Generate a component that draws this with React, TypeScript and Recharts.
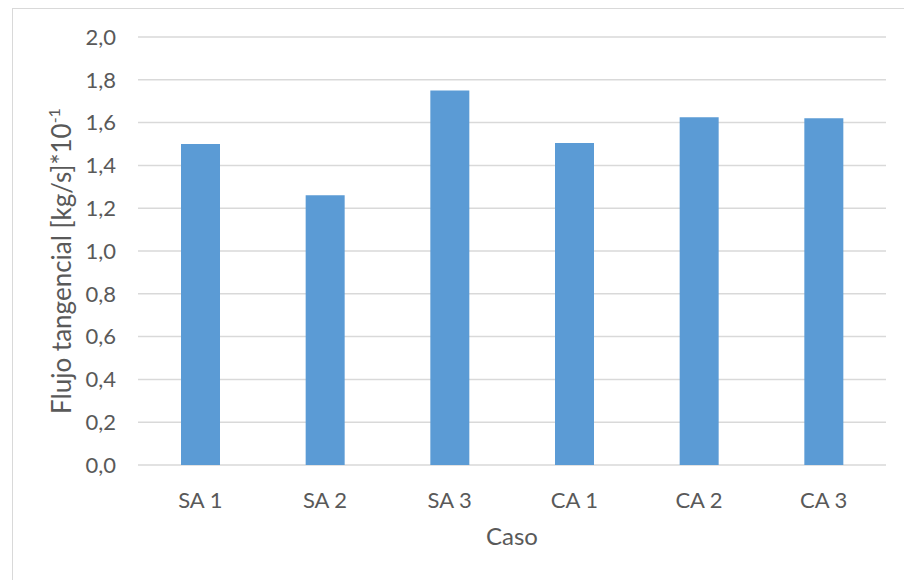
import { BarChart, Bar, XAxis, YAxis, CartesianGrid, Label } from "recharts";

const categories = ["SA 1", "SA 2", "SA 3", "CA 1", "CA 2", "CA 3"];
const flujo = [1.5, 1.26, 1.75, 1.505, 1.625, 1.62];
const yTicks = [0, 0.2, 0.4, 0.6, 0.8, 1.0, 1.2, 1.4, 1.6, 1.8, 2.0];

const data = categories.map((c, i) => ({ caso: c, flujo: flujo[i] }));

const TEXT = "#595959";
const GRID = "#d9d9d9";
const FONT = "Lato, 'Open Sans', sans-serif";

const fmt = (v: number) => v.toFixed(1).replace(".", ",");

export default function App() {
  return (
    <div style={{ position: "absolute", left: 0, top: 0, width: 904, height: 580, overflow: "hidden", background: "#fff", fontFamily: FONT }}>
      {/* chart frame, cropped on the right and bottom */}
      <div style={{ position: "absolute", left: 12, top: 8, width: 1000, height: 1000, border: `1.5px solid ${GRID}` }} />
      <div style={{ position: "absolute", left: 0, top: 0 }}>
        <BarChart width={904} height={580} data={data} margin={{ top: 37, right: 18, left: 0, bottom: 55 }}>
          <CartesianGrid vertical={false} stroke={GRID} strokeWidth={1.5} />
          <XAxis dataKey="caso" height={60} axisLine={false} tickLine={false} tickMargin={21}
            tick={{ fill: TEXT, fontSize: 22, fontFamily: FONT }}>
            <Label content={({ viewBox }: any) => (
              <text x={viewBox.x + viewBox.width / 2} y={viewBox.y + 80} textAnchor="middle"
                fill={TEXT} fontSize={24} fontFamily={FONT}>Caso</text>
            )} />
          </XAxis>
          <YAxis width={138} domain={[0, 2]} ticks={yTicks} interval={0} axisLine={false} tickLine={false}
            tickMargin={16} tickFormatter={fmt} tick={{ fill: TEXT, fontSize: 22, fontFamily: FONT }}>
            <Label content={({ viewBox }: any) => {
              const cx = 71;
              const cy = viewBox.y + viewBox.height / 2 + 10;
              return (
                <text x={cx} y={cy} transform={`rotate(-90 ${cx} ${cy})`} textAnchor="middle"
                  fill={TEXT} fontSize={26} fontFamily={FONT}>
                  Flujo tangencial [kg/s]*10<tspan fontSize={16} dy={-11}>-1</tspan>
                </text>
              );
            }} />
          </YAxis>
          <Bar dataKey="flujo" fill="#5b9bd5" barSize={39} isAnimationActive={false} />
        </BarChart>
      </div>
    </div>
  );
}
